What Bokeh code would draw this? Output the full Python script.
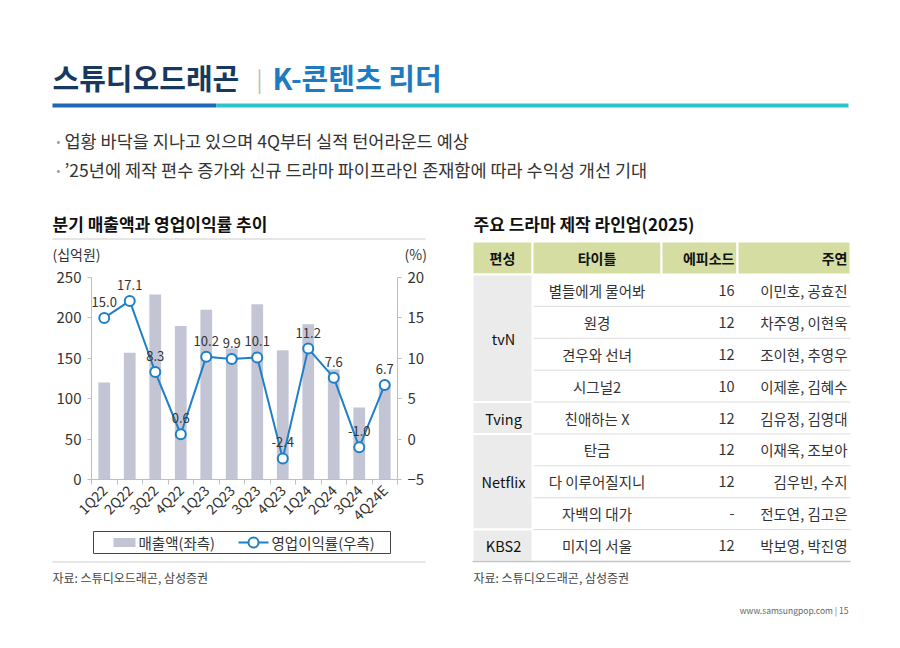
import math
from bokeh.plotting import figure
from bokeh.models import (Range1d, LinearAxis, FixedTicker, CustomJSTickFormatter, GridBox)
from bokeh.core.properties import value
from bokeh.embed import file_html
from bokeh.resources import INLINE

FONT = "Noto Sans CJK KR"

# ---------------- data ----------------
quarters = ["1Q22", "2Q22", "3Q22", "4Q22", "1Q23", "2Q23", "3Q23", "4Q23",
            "1Q24", "2Q24", "3Q24", "4Q24E"]
revenue = [120, 157, 229, 190, 210, 162, 217, 160, 192, 136, 89, 118]          # 십억원
op_margin = [15.0, 17.1, 8.3, 0.6, 10.2, 9.9, 10.1, -2.4, 11.2, 7.6, -1.0, 6.7]  # %
left_ticks = [0, 50, 100, 150, 200, 250]
right_ticks = [-5, 0, 5, 10, 15, 20]
series_names = ["매출액(좌측)", "영업이익률(우측)"]

table_header = ["편성", "타이틀", "에피소드", "주연"]
networks = ["tvN", "Tving", "Netflix", "KBS2"]
network_rows = [4, 1, 3, 1]
titles = ["별들에게 물어봐", "원경", "견우와 선녀", "시그널2", "친애하는 X",
          "탄금", "다 이루어질지니", "자백의 대가", "미지의 서울"]
episodes = ["16", "12", "12", "10", "12", "12", "12", "-", "12"]
cast = ["이민호, 공효진", "차주영, 이현욱", "조이현, 추영우", "이제훈, 김혜수",
        "김유정, 김영대", "이재욱, 조보아", "김우빈, 수지", "전도연, 김고은",
        "박보영, 박진영"]

# ---------------- colours ----------------
NAVY = "#17395f"
BLUE = "#1f7bc0"
DARKBAR = "#1f68b3"
TEAL = "#2cc4c9"
BAR = "#c4c5d4"
LINE = "#1f7fc6"
HEAD = "#d5dda3"
CELLGRAY = "#ebebeb"
TXT = "#333333"

W, H = 884, 632

# ---------------- background page figure ----------------
bg = figure(width=W, height=H, x_range=Range1d(0, W), y_range=Range1d(H, 0),
            output_backend="svg", toolbar_location=None, x_axis_type=None,
            y_axis_type=None, min_border=0, outline_line_color=None)
bg.grid.visible = False
bg.frame_align = False


def txt(x, y, s, size, color=TXT, bold=False, align="left", baseline="middle"):
    bg.text(x=[x], y=[y], text=[s], text_font=value(FONT), text_font_size=size,
            text_color=color, text_font_style="bold" if bold else "normal",
            text_align=align, text_baseline=baseline)


# title
txt(52, 76, "스튜디오드래곤", "29px", NAVY, bold=True)
txt(256, 77, "|", "22px", "#bbbbbb")
txt(272, 76, "K-콘텐츠 리더", "29px", BLUE, bold=True)
bg.quad(left=[52], right=[216], top=[103], bottom=[107], fill_color=DARKBAR, line_color=None)
bg.quad(left=[216], right=[848], top=[103], bottom=[107], fill_color=TEAL, line_color=None)

# bullets
txt(56, 140, "•", "11px", "#9a9a9a")
txt(64, 140, "업황 바닥을 지나고 있으며 4Q부터 실적 턴어라운드 예상", "17.5px", TXT)
txt(56, 169, "•", "11px", "#9a9a9a")
txt(64, 169, "’25년에 제작 편수 증가와 신규 드라마 파이프라인 존재함에 따라 수익성 개선 기대", "17.5px", TXT)

# section titles
txt(52, 223, "분기 매출액과 영업이익률 추이", "17px", "#111111", bold=True)
txt(473, 223, "주요 드라마 제작 라인업(2025)", "17px", "#111111", bold=True)
bg.segment(x0=[52], x1=[425], y0=[238.5], y1=[238.5], line_color="#cccccc", line_width=1)
bg.segment(x0=[52], x1=[425], y0=[561.5], y1=[561.5], line_color="#cccccc", line_width=1)

# chart unit labels
txt(52, 253, "(십억원)", "14px", TXT)
txt(404, 253, "(%)", "14px", TXT)

# sources / footer
txt(52, 577, "자료: 스튜디오드래곤, 삼성증권", "12px", "#444444")
txt(473, 577, "자료: 스튜디오드래곤, 삼성증권", "12px", "#444444")
txt(848, 609, "www.samsungpop.com | 15", "8.5px", "#666666", align="right")

# legend (boxed, below the chart)
bg.quad(left=[93], right=[390], top=[531], bottom=[553], fill_color="white",
        line_color="#444444", line_width=1)
bg.quad(left=[113], right=[135], top=[537.5], bottom=[546.5], fill_color=BAR, line_color=None)
txt(138, 542, series_names[0], "14.5px", TXT)
bg.segment(x0=[238], x1=[268], y0=[542], y1=[542], line_color=LINE, line_width=2)
bg.scatter(x=[253], y=[542], size=10, fill_color="white", line_color=LINE, line_width=2)
txt(271, 542, series_names[1], "14.5px", TXT)

# table
col_edges = [472, 532, 661, 737, 850]
head_top, head_bot = 241, 274
row_h = (561 - head_bot) / len(titles)
row_tops = [head_bot + i * row_h for i in range(len(titles) + 1)]

bg.quad(left=col_edges[:-1], right=col_edges[1:], top=[head_top] * 4, bottom=[head_bot] * 4,
        fill_color=HEAD, line_color="white", line_width=2)
hx = [(col_edges[0] + col_edges[1]) / 2, (col_edges[1] + col_edges[2]) / 2,
      col_edges[3] - 3, col_edges[4] - 3]
haligns = ["center", "center", "right", "right"]
for x, s, a in zip(hx, table_header, haligns):
    txt(x, (head_top + head_bot) / 2, s, "14px", "#111111", bold=True, align=a)

# network group cells
start = 0
for name, n in zip(networks, network_rows):
    top, bot = row_tops[start], row_tops[start + n]
    bg.quad(left=[col_edges[0]], right=[col_edges[1]], top=[top], bottom=[bot],
            fill_color=CELLGRAY, line_color="white", line_width=2)
    txt((col_edges[0] + col_edges[1]) / 2 + 1, (top + bot) / 2, name, "14.5px", "#111111",
        align="center")
    start += n

# row separators
bg.segment(x0=[col_edges[1] + 1] * (len(titles) - 1), x1=[col_edges[4]] * (len(titles) - 1),
           y0=row_tops[1:-1], y1=row_tops[1:-1], line_color="#dcdcdc", line_width=1)
bg.segment(x0=[col_edges[0]], x1=[col_edges[4]], y0=[row_tops[-1]], y1=[row_tops[-1]],
           line_color="#c4c4c4", line_width=1.5)

for i in range(len(titles)):
    yc = (row_tops[i] + row_tops[i + 1]) / 2
    txt((col_edges[1] + col_edges[2]) / 2, yc, titles[i], "14.5px", TXT, align="center")
    txt(col_edges[3] - 3, yc, episodes[i], "14.5px", TXT, align="right")
    txt(col_edges[4] - 3, yc, cast[i], "14.5px", TXT, align="right")

# ---------------- chart figure (overlaid) ----------------
n = len(quarters)
xs = [i + 0.5 for i in range(n)]

chart = figure(width=W, height=H, x_range=Range1d(0, n), y_range=Range1d(0, 250),
               output_backend="svg", toolbar_location=None,
               min_border_left=91, min_border_right=W - 397, min_border_top=277,
               min_border_bottom=H - 479, background_fill_color=None,
               border_fill_color=None, outline_line_color=None)
chart.frame_align = False
chart.extra_y_ranges = {"pct": Range1d(-5, 20)}
chart.grid.visible = False

AX = "#bfbfbf"


def style_axis(ax):
    ax.axis_line_color = AX
    ax.major_tick_line_color = AX
    ax.minor_tick_line_color = None
    ax.major_tick_out = 4
    ax.major_tick_in = 0
    ax.major_label_text_font = FONT
    ax.major_label_text_font_size = "15px"
    ax.major_label_text_color = TXT
    ax.major_label_standoff = 6


yl = chart.yaxis[0]
yl.ticker = FixedTicker(ticks=left_ticks)
style_axis(yl)

yr = LinearAxis(y_range_name="pct", ticker=FixedTicker(ticks=right_ticks))
style_axis(yr)
chart.add_layout(yr, "right")

xa = chart.xaxis[0]
xa.ticker = FixedTicker(ticks=xs, minor_ticks=list(range(n + 1)))
xa.formatter = CustomJSTickFormatter(args=dict(labels=quarters),
                                     code="return labels[Math.floor(tick)] || '';")
style_axis(xa)
xa.major_tick_out = 0
xa.minor_tick_line_color = AX
xa.minor_tick_out = 5
xa.minor_tick_in = 0
xa.major_label_orientation = math.pi / 4
xa.major_label_text_font_size = "14px"
xa.major_label_standoff = 3

chart.vbar(x=xs, top=revenue, width=0.46, fill_color=BAR, line_color=None)
chart.line(x=xs, y=op_margin, y_range_name="pct", line_color=LINE, line_width=2)
chart.scatter(x=xs, y=op_margin, y_range_name="pct", size=10, fill_color="white",
              line_color=LINE, line_width=2)
chart.text(x=xs, y=op_margin, text=[f"{v:.1f}" for v in op_margin], y_range_name="pct",
           text_font=value(FONT), text_font_size="13px", text_color=TXT,
           text_align="center", text_baseline="middle", y_offset=-16)

layout = GridBox(children=[(bg, 0, 0), (chart, 0, 0)])

open("out.html", "w").write(file_html(layout, INLINE))
